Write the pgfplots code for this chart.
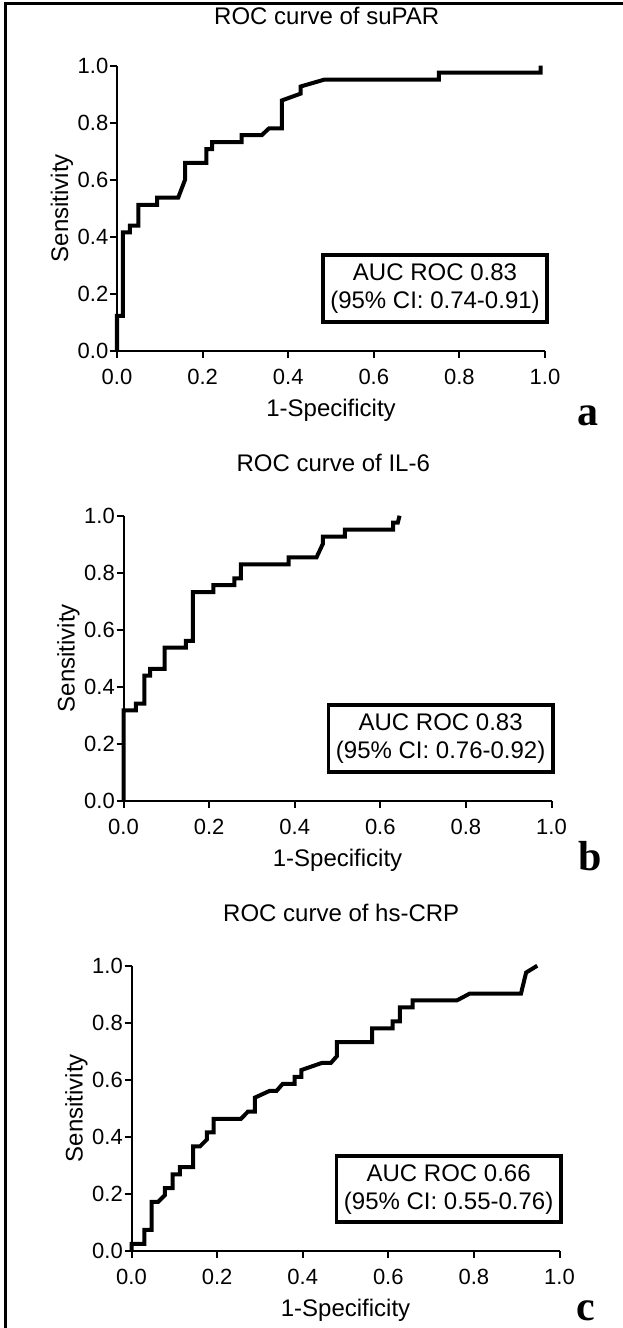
\documentclass[border=0pt]{standalone}
\usepackage{fontspec}
\setmainfont{Liberation Sans}
\newfontfamily\letterfont{Liberation Serif}
\usepackage{pgfplots}
\pgfplotsset{compat=1.18}
\pgfplotsset{
 roc/.style={
  scale only axis, width=428pt, height=285pt,
  xmin=0,xmax=1,ymin=0,ymax=1,
  axis x line*=bottom, axis y line*=left,
  axis line style={line width=2pt},
  every tick/.style={line width=2pt, black},
  tick align=outside, major tick length=7pt,
  xtick={0,0.2,0.4,0.6,0.8,1}, ytick={0,0.2,0.4,0.6,0.8,1},
  xticklabels={0.0,0.2,0.4,0.6,0.8,1.0}, yticklabels={0.0,0.2,0.4,0.6,0.8,1.0},
  xticklabel style={font=\fontsize{22}{26}\selectfont, inner sep=3pt, yshift=-8pt},
  yticklabel style={font=\fontsize{22}{26}\selectfont, inner sep=1.5pt},
  xlabel={1-Specificity}, ylabel={Sensitivity},
  xlabel style={font=\fontsize{24}{28}\selectfont, at={(axis description cs:0.5,-0.21)}, anchor=center},
  ylabel style={font=\fontsize{24}{28}\selectfont, at={(axis description cs:-0.1285,0.5)}, anchor=center, rotate=0},
  title style={font=\fontsize{24}{28}\selectfont, at={(axis description cs:0.49,1.165)}, anchor=center},
  clip=false,
 },
 curve/.style={line width=4pt, black, mark=none},
}
\begin{document}
\begin{tikzpicture}
\path[use as bounding box] (0pt,0pt) rectangle (622pt,-1328pt);
\draw[line width=3.5pt] (5.5pt,-1332pt) -- (5.5pt,-3.5pt) -- (626pt,-3.5pt);

% Panel a
\begin{axis}[roc, at={(117pt,-350.7pt)}, anchor=south west, title={ROC curve of suPAR}, title style={yshift=-3pt}]
\addplot[curve] coordinates {
(0,0) (0,0.122) (0.014,0.122) (0.014,0.415) (0.030,0.415) (0.030,0.439)
(0.050,0.439) (0.050,0.512) (0.094,0.512) (0.094,0.537) (0.143,0.537)
(0.159,0.600) (0.159,0.659) (0.209,0.659) (0.209,0.707) (0.222,0.707)
(0.222,0.732) (0.291,0.732) (0.291,0.756) (0.338,0.756) (0.355,0.780)
(0.385,0.780) (0.385,0.878) (0.429,0.902) (0.429,0.927) (0.484,0.951)
(0.752,0.951) (0.752,0.976) (0.990,0.976) (0.990,1.0)};
\draw[line width=3.5pt] (axis cs:0.481,0.10) rectangle (axis cs:1.005,0.336);
\node[align=center, font=\fontsize{24}{28}\selectfont] at (axis cs:0.743,0.218) {AUC ROC 0.83\\(95\% CI: 0.74-0.91)};
\end{axis}

% Panel b
\begin{axis}[roc, at={(123.5pt,-800.7pt)}, anchor=south west, title={ROC curve of IL-6}]
\addplot[curve] coordinates {
(0,0) (0,0.317) (0.029,0.317) (0.029,0.341) (0.049,0.341) (0.049,0.439)
(0.062,0.439) (0.062,0.463) (0.096,0.463) (0.096,0.537) (0.146,0.537)
(0.146,0.561) (0.162,0.561) (0.162,0.732) (0.210,0.732) (0.210,0.756)
(0.259,0.756) (0.259,0.780) (0.274,0.780) (0.274,0.829) (0.386,0.829)
(0.386,0.854) (0.451,0.854) (0.466,0.902) (0.466,0.927) (0.517,0.927)
(0.517,0.951) (0.630,0.951) (0.630,0.976) (0.641,0.976) (0.645,1.0)};
\draw[line width=3.5pt] (axis cs:0.479,0.10) rectangle (axis cs:1.003,0.336);
\node[align=center, font=\fontsize{24}{28}\selectfont] at (axis cs:0.741,0.218) {AUC ROC 0.83\\(95\% CI: 0.76-0.92)};
\end{axis}

% Panel c
\begin{axis}[roc, at={(131.5pt,-1250.7pt)}, anchor=south west, title={ROC curve of hs-CRP}]
\addplot[curve] coordinates {
(0,0) (0,0.024) (0.030,0.024) (0.030,0.073) (0.047,0.073) (0.047,0.171)
(0.062,0.171) (0.078,0.195) (0.078,0.220) (0.096,0.220) (0.096,0.268)
(0.113,0.268) (0.113,0.293) (0.144,0.293) (0.144,0.366) (0.160,0.366)
(0.176,0.390) (0.176,0.415) (0.192,0.415) (0.192,0.463) (0.256,0.463)
(0.272,0.488) (0.288,0.488) (0.288,0.537) (0.323,0.561) (0.339,0.561)
(0.353,0.585) (0.381,0.585) (0.381,0.610) (0.397,0.610) (0.397,0.634)
(0.445,0.659) (0.466,0.659) (0.480,0.683) (0.480,0.732) (0.562,0.732)
(0.562,0.780) (0.610,0.780) (0.610,0.805) (0.627,0.805) (0.627,0.854)
(0.657,0.854) (0.657,0.878) (0.760,0.878) (0.790,0.902) (0.910,0.902)
(0.922,0.976) (0.948,1.0)};
\draw[line width=3.5pt] (axis cs:0.479,0.10) rectangle (axis cs:1.003,0.332);
\node[align=center, font=\fontsize{24}{28}\selectfont] at (axis cs:0.741,0.216) {AUC ROC 0.66\\(95\% CI: 0.55-0.76)};
\end{axis}

\node[font=\letterfont\bfseries\fontsize{42}{46}\selectfont, anchor=base] at (588pt,-425pt) {a};
\node[font=\letterfont\bfseries\fontsize{42}{46}\selectfont, anchor=base] at (590pt,-870pt) {b};
\node[font=\letterfont\bfseries\fontsize{42}{46}\selectfont, anchor=base] at (586pt,-1320pt) {c};
\end{tikzpicture}
\end{document}
